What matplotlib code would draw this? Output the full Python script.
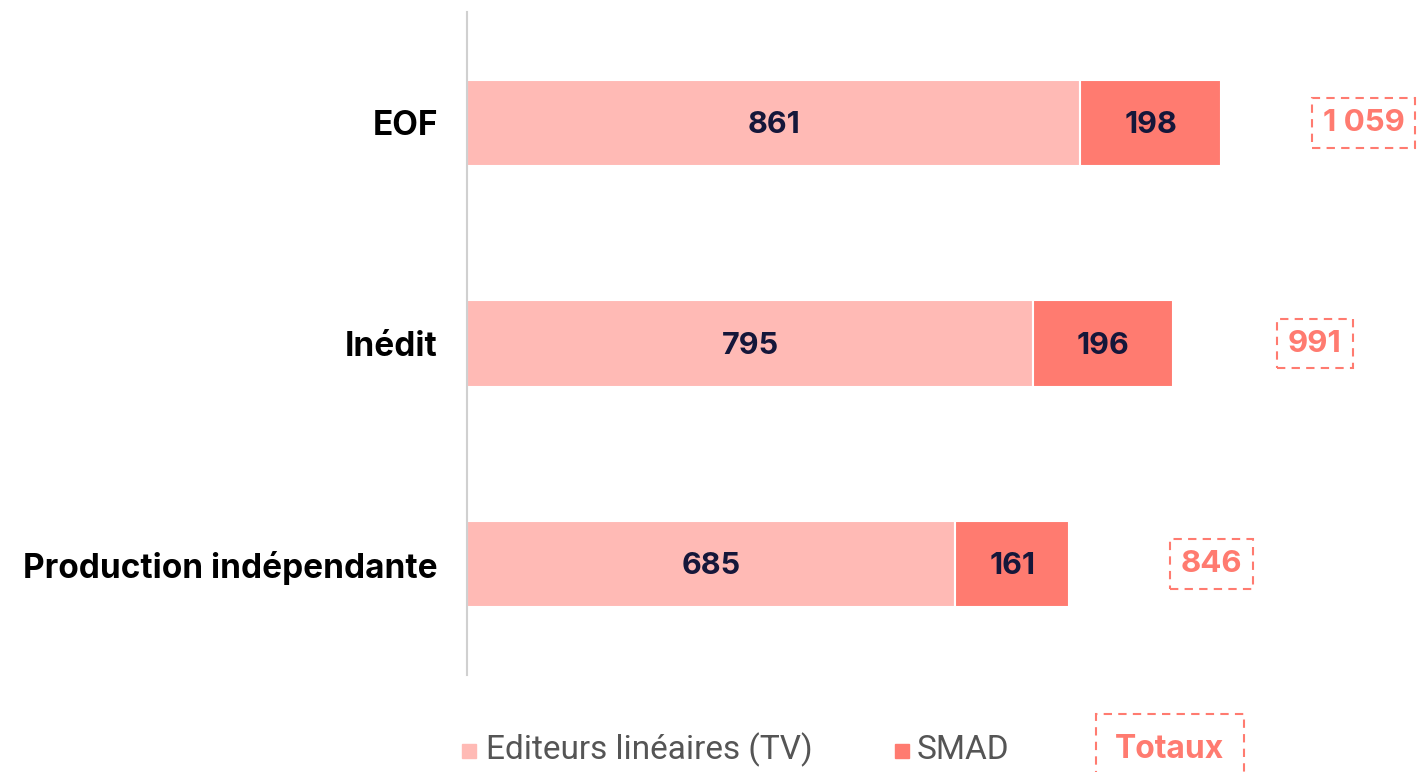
import matplotlib.pyplot as plt
from matplotlib.patches import Rectangle

# data
categories = ["EOF", "Inédit", "Production indépendante"]
tv = [861, 795, 685]
smad = [198, 196, 161]
totals = [1059, 991, 846]
total_labels = ["1 059", "991", "846"]

c_tv = "#FFBAB5"
c_smad = "#FF7B70"
c_txt = "#15173A"

plt.rcParams['font.family'] = ['Inter', 'DejaVu Sans']

fig = plt.figure(figsize=(14.24, 7.72), dpi=100)
ax = fig.add_axes([467 / 1424, 1 - 675 / 772, 1 - 467 / 1424, 663 / 772])

y = range(len(categories))
ax.barh(y, tv, height=0.39, color=c_tv, edgecolor="white", linewidth=1.5)
ax.barh(y, smad, left=tv, height=0.39, color=c_smad, edgecolor="white", linewidth=1.5)

for i in y:
    ax.text(tv[i] / 2, i + 0.01, str(tv[i]), ha="center", va="center",
            fontsize=22, fontweight="bold", color=c_txt)
    ax.text(tv[i] + smad[i] / 2, i + 0.01, str(smad[i]), ha="center", va="center",
            fontsize=22, fontweight="bold", color=c_txt)
    ax.text(totals[i] + 200, i, total_labels[i], ha="center", va="center",
            fontsize=22.5, fontweight="bold", color=c_smad, clip_on=False,
            bbox=dict(boxstyle="square,pad=0.35", fc="white", ec=c_smad,
                      ls=(0, (4, 3)), lw=1.5))

ax.set_xlim(0, 1344)
ax.set_ylim(2.503, -0.503)
ax.set_yticks(list(y))
ax.set_yticklabels(categories, fontsize=24, fontweight="bold", color="black")
ax.tick_params(axis="y", length=0, pad=21)
ax.set_xticks([])
for s in ["top", "right", "bottom"]:
    ax.spines[s].set_visible(False)
ax.spines["left"].set_color("#D0D0D0")
ax.spines["left"].set_linewidth(1.5)

# legend
fig.patches.append(Rectangle((462 / 1424, 1 - 758 / 772), 14 / 1424, 14 / 772,
                             transform=fig.transFigure, color=c_tv))
fig.text(486 / 1424, 1 - 750 / 772, "Editeurs linéaires (TV)", fontsize=24,
         color="#555555", va="center", family=['Roboto', 'DejaVu Sans'])
fig.patches.append(Rectangle((895 / 1424, 1 - 758 / 772), 14 / 1424, 14 / 772,
                             transform=fig.transFigure, color=c_smad))
fig.text(917 / 1424, 1 - 750 / 772, "SMAD", fontsize=24,
         color="#555555", va="center", family=['Roboto', 'DejaVu Sans'])
fig.text(1170 / 1424, 1 - 749 / 772, "Totaux", fontsize=23, fontweight="bold",
         color=c_smad, ha="center", va="center",
         bbox=dict(boxstyle="square,pad=0.6", fc="white", ec=c_smad,
                   ls=(0, (4, 3)), lw=1.5))

fig.savefig("out.png", dpi=100)
